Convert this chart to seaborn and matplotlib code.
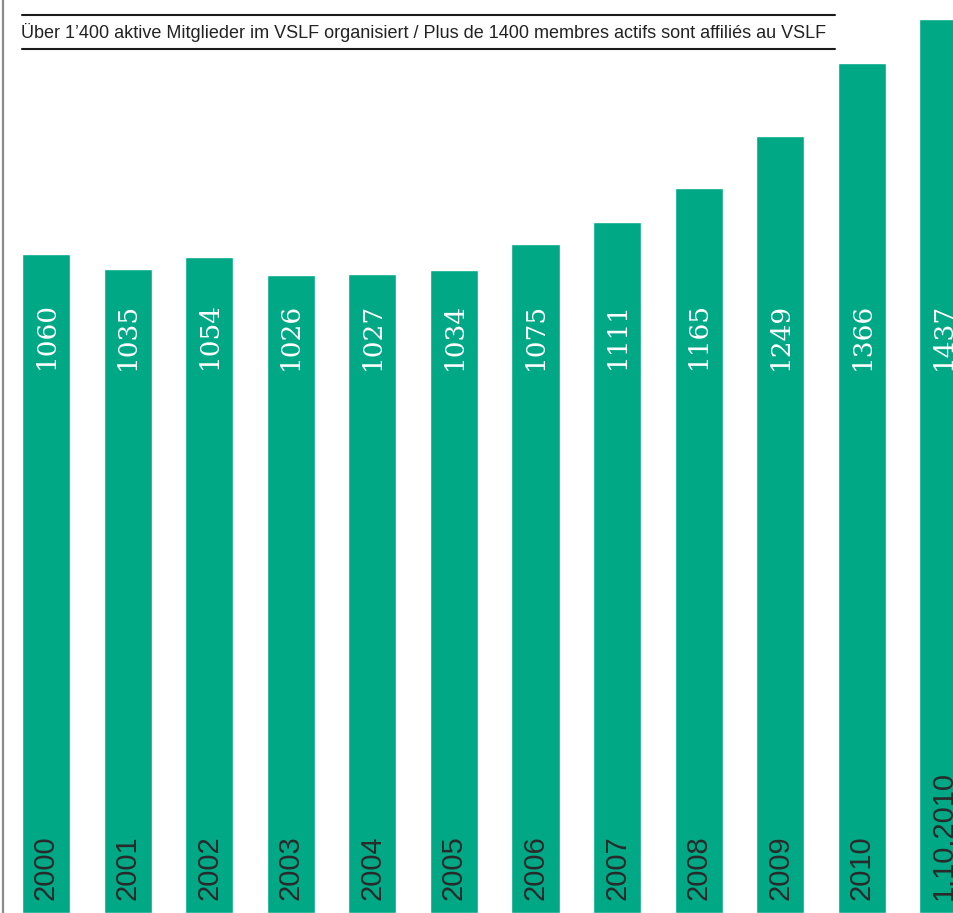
import numpy as np
import pandas as pd
import matplotlib
matplotlib.use('Agg')
import matplotlib.pyplot as plt
import matplotlib.transforms as mtransforms
from matplotlib import font_manager
import seaborn as sns

# Data
years = ['2000', '2001', '2002', '2003', '2004', '2005', '2006', '2007',
         '2008', '2009', '2010', '1.10.2010']
members = [1060, 1035, 1054, 1026, 1027, 1034, 1075, 1111, 1165, 1249, 1366, 1437]
title = 'Über 1’400 aktive Mitglieder im VSLF organisiert / Plus de 1400 membres actifs sont affiliés au VSLF'

df = pd.DataFrame({'year': years, 'members': members})

green = '#00a886'
names = {f.name for f in font_manager.fontManager.ttflist}
narrow = 'Liberation Sans Narrow' if 'Liberation Sans Narrow' in names else 'Liberation Sans'
serif = 'DejaVu Serif' if 'DejaVu Serif' in names else 'Liberation Serif'

sns.set_style('white')
plt.rcParams['font.family'] = [narrow, 'DejaVu Sans']

fig = plt.figure(figsize=(9.54, 9.13), dpi=100)
ax = fig.add_axes([3 / 954, 0, 951 / 954, 1])

sns.barplot(data=df, x='year', y='members', color=green, saturation=1,
            width=0.59, order=years, ax=ax)

ax.set_xlim(-0.527, 11.13)
ax.set_ylim(0, 1468)
ax.set_xticks([])
ax.set_yticks([])
ax.set_xlabel('')
ax.set_ylabel('')
for s in ['top', 'right', 'bottom']:
    ax.spines[s].set_visible(False)
ax.spines['left'].set_color('#8a8a8a')
ax.spines['left'].set_linewidth(1.6)

# value labels (white, serif) and year labels (dark, sans) inside the bars
trans = mtransforms.blended_transform_factory(ax.transData, ax.transAxes)
for i, (yr, val) in enumerate(zip(years, members)):
    ax.text(i, 0.632, str(val), transform=trans, rotation=90, ha='center',
            va='center', color='white', fontsize=19, family=serif)
    ax.text(i, 0.014, yr, transform=trans, rotation=90, ha='center',
            va='bottom', color='#2a2a2a', fontsize=21)

# Title with rules above and below
fig.text(21 / 954, 1 - 32 / 913, title, ha='left', va='center',
         fontsize=13, color='#222222')
for yy in [15.5, 49]:
    fig.add_artist(plt.Line2D([22 / 954, 835 / 954], [1 - yy / 913] * 2,
                              color='#1a1a1a', lw=1.5))

fig.savefig('out.png', dpi=100)
